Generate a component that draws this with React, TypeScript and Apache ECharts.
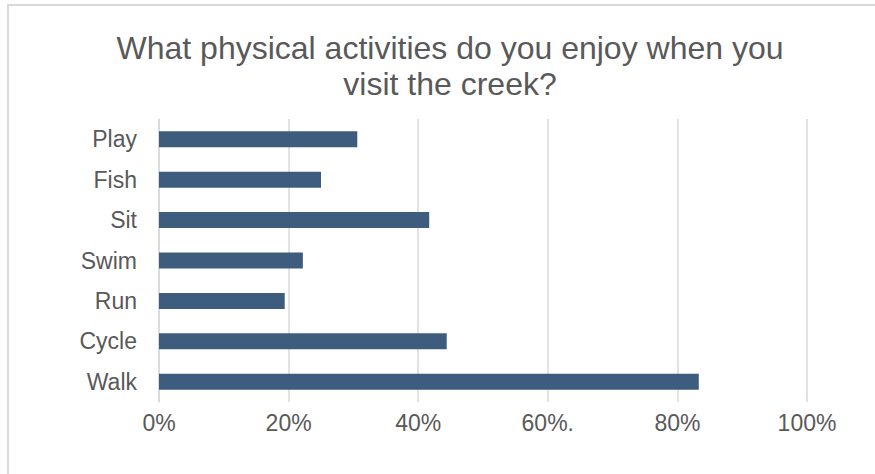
import React, { useEffect, useRef } from "react";
import * as echarts from "echarts";

const categories = ["Walk", "Cycle", "Run", "Swim", "Sit", "Fish", "Play"];
const values = [83.3, 44.4, 19.4, 22.2, 41.7, 25.0, 30.6];
const tickLabels: Record<number, string> = {
  0: "0%",
  20: "20%",
  40: "40%",
  60: "60%.",
  80: "80%",
  100: "100%",
};
const titleText = "What physical activities do you enjoy when you\nvisit the creek?";

export default function App() {
  const ref = useRef<HTMLDivElement>(null);
  useEffect(() => {
    if (!ref.current) return;
    const chart = echarts.init(ref.current, undefined, { renderer: "svg" });
    const font = "'Liberation Sans', Arial, sans-serif";
    chart.setOption({
      animation: false,
      backgroundColor: "#ffffff",
      title: {
        text: titleText,
        left: 445,
        top: 25,
        textAlign: "center",
        textStyle: {
          fontFamily: font,
          fontSize: 32,
          fontWeight: "normal",
          color: "#595959",
          lineHeight: 36,
        },
      },
      graphic: [
        {
          type: "polyline",
          shape: { points: [[8, 480], [8, 5], [880, 5]] },
          style: { stroke: "#d9d9d9", lineWidth: 2, fill: "none" },
          silent: true,
        },
      ],
      grid: { left: 159, right: 68, top: 119, bottom: 72, containLabel: false },
      xAxis: {
        type: "value",
        min: 0,
        max: 100,
        interval: 20,
        axisLine: { show: false },
        axisTick: { show: false },
        splitLine: { show: true, lineStyle: { color: "#d9d9d9", width: 1.5 } },
        axisLabel: {
          formatter: (v: number) => tickLabels[Math.round(v)] ?? "",
          fontFamily: font,
          fontSize: 23,
          color: "#595959",
          margin: 9,
        },
      },
      yAxis: {
        type: "category",
        data: categories,
        axisLine: { show: true, lineStyle: { color: "#d9d9d9", width: 1.5 } },
        axisTick: { show: false },
        axisLabel: {
          fontFamily: font,
          fontSize: 23,
          color: "#595959",
          margin: 22,
        },
      },
      series: [
        {
          type: "bar",
          data: values,
          barWidth: 16,
          itemStyle: { color: "#3e5c7e" },
        },
      ],
    });
    return () => chart.dispose();
  }, []);
  return (
    <div
      ref={ref}
      style={{ position: "fixed", left: 0, top: 0, width: 875, height: 474 }}
    />
  );
}
